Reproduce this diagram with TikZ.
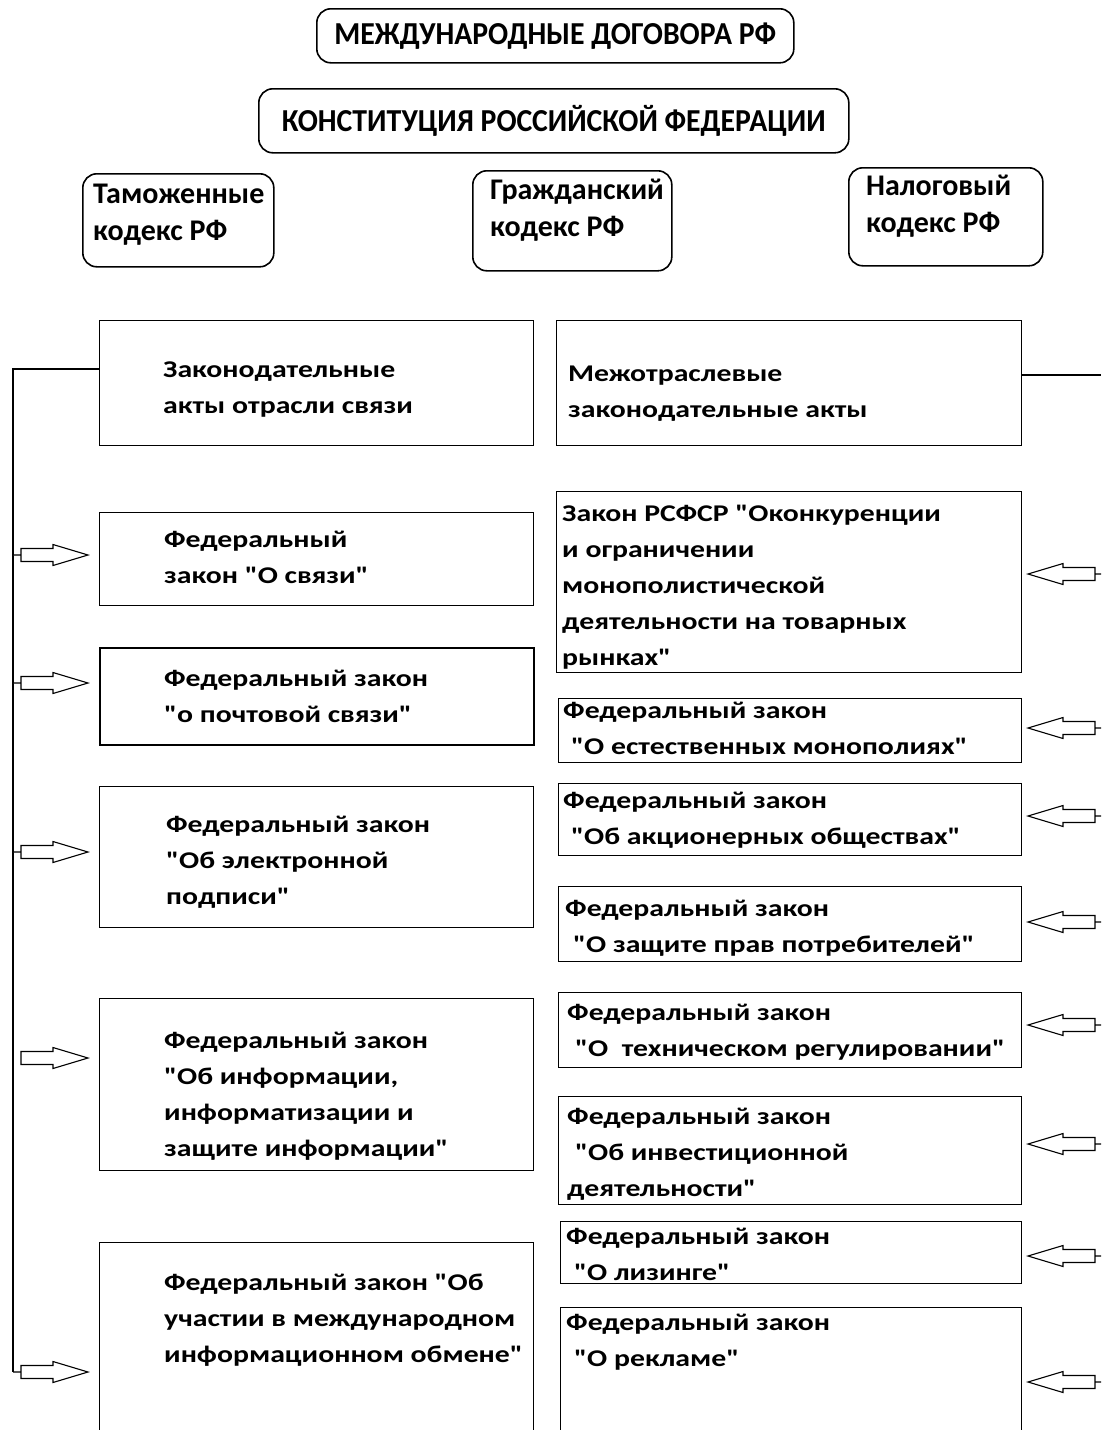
\documentclass[tikz,border=0pt]{standalone}
\usepackage{fontspec}
\newfontfamily\headf{Carlito}[FakeStretch=0.93]
\newfontfamily\codef{Carlito}
\newfontfamily\bodyf{Carlito}[FakeStretch=1.24]
\usetikzlibrary{calc}
\tikzset{
  rbox/.style={draw, line width=1.6pt, rounded corners=14pt, inner sep=0pt},
  sbox/.style={draw, line width=1.3pt, inner sep=0pt},
  tbox/.style={draw, line width=2.4pt, inner sep=0pt},
  htxt/.style={font=\headf\bfseries\fontsize{32}{37}\selectfont, inner sep=0pt},
  ctxt/.style={font=\codef\bfseries\fontsize{30}{37}\selectfont, align=left, inner sep=0pt, anchor=base west},
  btxt/.style={font=\bodyf\bfseries\fontsize{24}{36}\selectfont, align=left, inner sep=0pt, anchor=base west},
  conn/.style={line width=1.3pt},
  arrbody/.style={line width=1.1pt, fill=white},
  blockarr/.pic={\draw[arrbody]
      (0,0) -- (8,0)
      (8,-6.5) -- (40,-6.5) -- (40,-10.5) -- (75,0) -- (40,10.5) -- (40,6.5) -- (8,6.5) -- cycle;},
  blockarrfree/.pic={\draw[arrbody]
      (8,-6.5) -- (40,-6.5) -- (40,-10.5) -- (75,0) -- (40,10.5) -- (40,6.5) -- (8,6.5) -- cycle;}
}
\newcommand\bx[6]{\node[#6, minimum width=#4-#2, minimum height=#5-#3, anchor=north west] (#1) at (#2,#3) {};}
\begin{document}
\begin{tikzpicture}[x=1pt,y=-1pt]
\useasboundingbox (0,0) rectangle (1101,1430);
\begin{scope}
\clip (0,0) rectangle (1101,1430);
% top rounded boxes
\node[rbox, htxt, minimum width=477, minimum height=54, anchor=north west] (intl) at (316,8) {МЕЖДУНАРОДНЫЕ ДОГОВОРА РФ};
\node[rbox, htxt, minimum width=590, minimum height=64, anchor=north west] (const) at (258,88) {КОНСТИТУЦИЯ РОССИЙСКОЙ ФЕДЕРАЦИИ};
\bx{tam}{82}{173}{273}{266}{rbox}
\bx{grazh}{472}{170}{671}{270}{rbox}
\bx{nalog}{848}{167}{1042}{265}{rbox}
\node[ctxt] (tamt) at (93,240) {Таможенные\\кодекс РФ};
\node[ctxt] (grazht) at (490,236) {Гражданский\\кодекс РФ};
\node[ctxt] (nalogt) at (866,232) {Налоговый\\кодекс РФ};
% left column
\bx{L1}{99}{320}{533}{445}{sbox}
\bx{L2}{99}{512}{533}{605}{sbox}
\bx{L3}{99}{647}{533}{744}{tbox}
\bx{L4}{99}{786}{533}{927}{sbox}
\bx{L5}{99}{998}{533}{1170}{sbox}
\bx{L6}{99}{1242}{533}{1460}{sbox}
\node[btxt] (L1t) at (163,413) {Законодательные\\акты отрасли связи};
\node[btxt] (L2t) at (164,583) {Федеральный\\закон "О связи"};
\node[btxt] (L3t) at (164,722) {Федеральный закон\\"о почтовой связи"};
\node[btxt] (L4t) at (166,904) {Федеральный закон\\"Об электронной\\подписи"};
\node[btxt] (L5t) at (164,1156) {Федеральный закон\\"Об информации,\\информатизации и\\защите информации"};
\node[btxt] (L6t) at (164,1362) {Федеральный закон "Об\\участии в международном\\информационном обмене"};
% right column
\bx{R1}{556}{320}{1021}{445}{sbox}
\bx{R2}{556}{491}{1021}{672}{sbox}
\bx{R3}{558}{698}{1021}{762}{sbox}
\bx{R4}{558}{783}{1021}{855}{sbox}
\bx{R5}{558}{886}{1021}{961}{sbox}
\bx{R6}{558}{992}{1021}{1067}{sbox}
\bx{R7}{558}{1096}{1021}{1204}{sbox}
\bx{R8}{560}{1221}{1021}{1283}{sbox}
\bx{R9}{560}{1307}{1021}{1460}{sbox}
\node[btxt] (R1t) at (568,417) {Межотраслевые\\законодательные акты};
\node[btxt] (R2t) at (562,665) {Закон РСФСР "Оконкуренции\\и ограничении\\монополистической\\деятельности на товарных\\рынках"};
\node[btxt] (R3t) at (563,754) {Федеральный закон\\\hspace*{8pt}"О естественных монополиях"};
\node[btxt] (R4t) at (563,844) {Федеральный закон\\\hspace*{8pt}"Об акционерных обществах"};
\node[btxt] (R5t) at (565,952) {Федеральный закон\\\hspace*{8pt}"О защите прав потребителей"};
\node[btxt] (R6t) at (567,1056) {Федеральный закон\\\hspace*{8pt}"О\ \ техническом регулировании"};
\node[btxt] (R7t) at (567,1196) {Федеральный закон\\\hspace*{8pt}"Об инвестиционной\\деятельности"};
\node[btxt] (R8t) at (566,1280) {Федеральный закон\\\hspace*{8pt}"О лизинге"};
\node[btxt] (R9t) at (566,1366) {Федеральный закон\\\hspace*{8pt}"О рекламе"};
% connectors
\coordinate (lbusT) at (13,369);
\coordinate (lbusB) at (13,1372);
\draw[conn] (L1.west |- lbusT) -- (lbusT) -- (lbusB);
\coordinate (rend) at (1101,375);
\draw[conn] (R1.east |- rend) -- (rend);
\foreach \yy in {555,683,852,1372} {\pic at (13,\yy) {blockarr};}
\pic at (13,1058) {blockarrfree};
\foreach \yy in {574,728,816,922,1025,1144,1256,1382} {\pic[xscale=-1] at (1103,\yy) {blockarr};}
\end{scope}
\end{tikzpicture}
\end{document}
